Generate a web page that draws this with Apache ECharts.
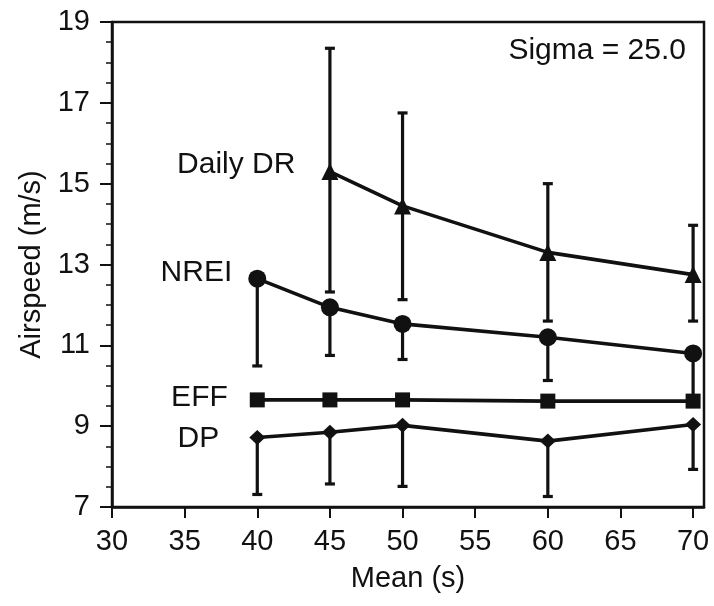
<!DOCTYPE html>
<html>
<head>
<meta charset="utf-8">
<script src="https://cdn.jsdelivr.net/npm/echarts@6.0.0/dist/echarts.min.js"></script>
<style>
  html, body { margin: 0; padding: 0; background: #fff; }
  #chart { width: 714px; height: 606px; }
</style>
</head>
<body>
<div id="chart"></div>
<script>
// Mean values (s) on the x axis
const means = [40, 45, 50, 60, 70];
const drMeans = [45, 50, 60, 70];

// Airspeed (m/s) per foraging model
const dailyDR = [15.3, 14.45, 13.3, 12.75];
const dailyDRHigh = [18.35, 16.75, 15.0, 13.97];
const dailyDRLow = [12.32, 12.13, 11.6, 11.6];

const nrei = [12.65, 11.94, 11.53, 11.2, 10.8];
const nreiLow = [10.49, 10.75, 10.65, 10.13, 9.7];

const eff = [9.65, 9.65, 9.65, 9.62, 9.62];

const dp = [8.72, 8.85, 9.02, 8.63, 9.04];
const dpLow = [7.31, 7.57, 7.51, 7.26, 7.93];

const xTicks = [30, 35, 40, 45, 50, 55, 60, 65, 70];
const sigmaText = 'Sigma = 25.0';

const INK = '#111';
const FONT = '"Liberation Sans", Arial, Helvetica, sans-serif';

const chart = echarts.init(document.getElementById('chart'), null, { renderer: 'canvas' });

function pairs(xs, ys) { return xs.map((x, i) => [x, ys[i]]); }

// vertical error bar: [x, from, to, capTop(0/1)]
function errorBars(xs, from, to, capTop) {
  return xs.map((x, i) => [x, from[i], to[i], capTop ? 1 : 0]);
}

function renderBar(params, api) {
  const x = api.value(0);
  const lo = api.coord([x, api.value(1)]);
  const hi = api.coord([x, api.value(2)]);
  const capW = 5;
  const style = { stroke: INK, lineWidth: 3.2 };
  const children = [
    { type: 'line', shape: { x1: lo[0], y1: lo[1], x2: hi[0], y2: hi[1] }, style: style },
    { type: 'line', shape: { x1: lo[0] - capW, y1: lo[1], x2: lo[0] + capW, y2: lo[1] }, style: style }
  ];
  if (api.value(3)) {
    children.push({ type: 'line', shape: { x1: hi[0] - capW, y1: hi[1], x2: hi[0] + capW, y2: hi[1] }, style: style });
  }
  return { type: 'group', children: children };
}

function nameLabel(text, distance, dy) {
  return {
    show: true,
    position: 'left',
    distance: distance,
    offset: [0, dy],
    color: INK,
    fontFamily: FONT,
    fontSize: 30,
    formatter: p => (p.dataIndex === 0 ? text : '')
  };
}

function lineSeries(name, xs, ys, symbol, size, label) {
  return {
    name: name,
    type: 'line',
    data: pairs(xs, ys),
    symbol: symbol,
    symbolSize: size,
    showSymbol: true,
    lineStyle: { color: INK, width: 3.6 },
    itemStyle: { color: INK, borderColor: INK, borderWidth: 0 },
    label: label,
    z: 5,
    animation: false
  };
}

const option = {
  animation: false,
  backgroundColor: '#fff',
  grid: {
    left: 112, right: 10, top: 22, bottom: 99,
    show: true, borderColor: INK, borderWidth: 2.5, backgroundColor: 'transparent'
  },
  xAxis: {
    type: 'value',
    min: 30, max: 70.75, interval: 5,
    name: 'Mean (s)',
    nameLocation: 'middle',
    nameGap: 57,
    nameTextStyle: { color: INK, fontFamily: FONT, fontSize: 29 },
    axisLine: { show: true, onZero: false, lineStyle: { color: INK, width: 2.5 } },
    axisTick: { show: true, inside: false, length: 11, lineStyle: { color: INK, width: 2 }, customValues: xTicks },
    axisLabel: { color: INK, fontFamily: FONT, fontSize: 29, margin: 20, customValues: xTicks },
    splitLine: { show: false }
  },
  yAxis: {
    type: 'value',
    min: 7, max: 19, interval: 2,
    name: 'Airspeed (m/s)',
    nameLocation: 'middle',
    nameGap: 65,
    nameTextStyle: { color: INK, fontFamily: FONT, fontSize: 29 },
    axisLine: { show: true, lineStyle: { color: INK, width: 2.5 } },
    axisTick: { show: true, inside: false, length: 12, lineStyle: { color: INK, width: 2 } },
    minorTick: { show: true, splitNumber: 4, length: 6, lineStyle: { color: INK, width: 1.5 } },
    axisLabel: { color: INK, fontFamily: FONT, fontSize: 29, margin: 22 },
    splitLine: { show: false }
  },
  graphic: [{
    type: 'text',
    right: 28,
    top: 36,
    style: { text: sigmaText, fill: INK, font: '30px ' + FONT }
  }],
  series: [
    {
      type: 'custom', name: 'Daily DR bars', renderItem: renderBar,
      data: errorBars(drMeans, dailyDRLow, dailyDRHigh, true), z: 3, animation: false
    },
    {
      type: 'custom', name: 'NREI bars', renderItem: renderBar,
      data: errorBars(means, nreiLow, nrei, false), z: 3, animation: false
    },
    {
      type: 'custom', name: 'DP bars', renderItem: renderBar,
      data: errorBars(means, dpLow, dp, false), z: 3, animation: false
    },
    lineSeries('Daily DR', drMeans, dailyDR, 'triangle', 17, nameLabel('Daily DR', 26, -7)),
    lineSeries('NREI', means, nrei, 'circle', 18, nameLabel('NREI', 16, -6)),
    lineSeries('EFF', means, eff, 'rect', 15, nameLabel('EFF', 22, -2)),
    lineSeries('DP', means, dp, 'diamond', [16, 15], nameLabel('DP', 30, 1))
  ]
};

chart.setOption(option);
</script>
</body>
</html>
